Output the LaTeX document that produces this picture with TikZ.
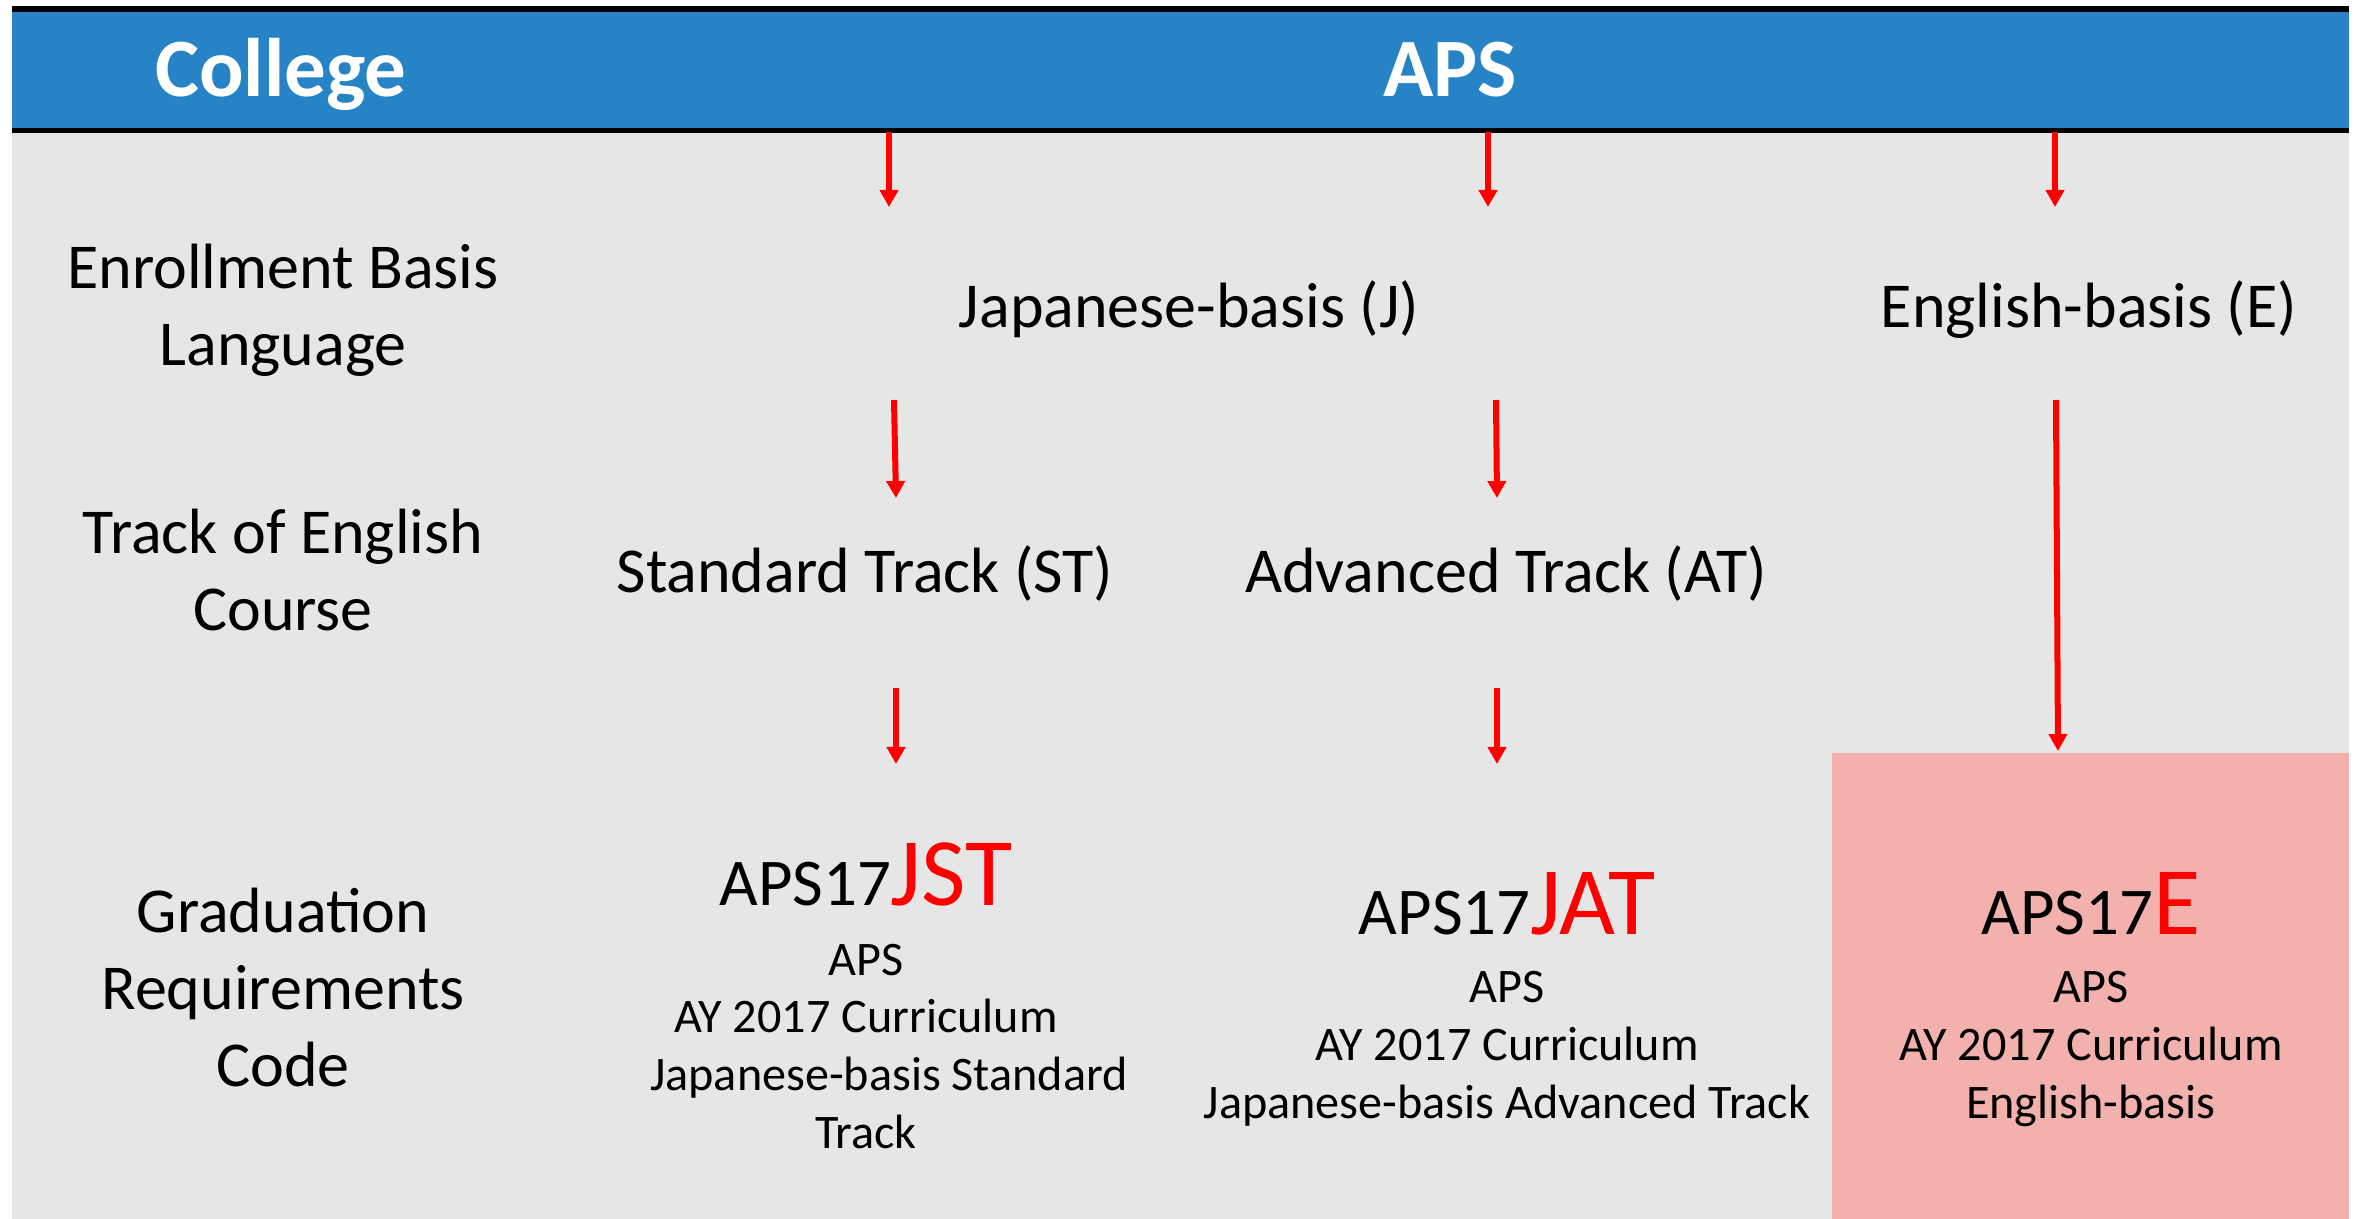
\documentclass[tikz,border=0pt]{standalone}
\usepackage{fontspec}
\setmainfont{Carlito}
\usetikzlibrary{arrows.meta,positioning}
\definecolor{bandblue}{RGB}{38,131,198}
\definecolor{panelgray}{RGB}{230,230,230}
\definecolor{codepink}{RGB}{242,177,172}
\newcommand{\redpart}[1]{{\fontsize{27.5}{33}\selectfont\color{red}#1}}
\tikzset{
  head/.style={font=\fontsize{23.6}{28}\selectfont\bfseries, text=white, anchor=base},
  rowlab/.style={font=\fontsize{18.2}{21.9}\selectfont, align=center, anchor=base, inner sep=0pt},
  code/.style={font=\fontsize{19}{23}\selectfont, anchor=base, inner sep=0pt},
  desc/.style={font=\fontsize{13.7}{16.4}\selectfont, align=center, inner sep=0pt},
  flow/.style={red, line width=0.06cm, -{Triangle[length=0.17cm,width=0.18cm]}}
}
\begin{document}
\begin{tikzpicture}[x=0.01cm,y=-0.01cm]
\useasboundingbox (0,0) rectangle (2359,1219);
\fill [panelgray] (12,133) rectangle (2349,1219);
\fill [codepink] (1832,753) rectangle (2349,1219);
\fill [bandblue] (12,9) rectangle (2349,130);
\draw [line width=0.06cm] (12,9) -- (2349,9);
\draw [line width=0.055cm] (12,130.5) -- (2349,130.5);
\node [head] (college) at (281,97) {College};
\node [head] (aps) at (1450,97) {APS};
\node [rowlab] (enroll) at (283,366) {Enrollment Basis\\Language};
\node [rowlab] (track) at (283,631) {Track of English\\Course};
\node [rowlab] (grad) at (283,1087) {Graduation\\Requirements\\Code};
\node [rowlab] (jbasis) at (1189,328) {Japanese-basis (J)};
\node [rowlab] (ebasis) at (2089,328) {English-basis (E)};
\node [rowlab] (std) at (865,593) {Standard Track (ST)};
\node [rowlab] (adv) at (1506,593) {Advanced Track (AT)};
\node [code] (jst) at (866,906) {APS17\redpart{JST}};
\node [desc, below=2.42cm of jst.base, anchor=base] (jstdesc) {APS\\AY 2017 Curriculum\\\hspace*{0.46cm}Japanese-basis Standard\\Track};
\node [code] (jat) at (1507,935) {APS17\redpart{JAT}};
\node [desc, below=1.83cm of jat.base, anchor=base] (jatdesc) {APS\\AY 2017 Curriculum\\Japanese-basis Advanced Track};
\node [code] (ecode) at (2091,935) {APS17\redpart{E}};
\node [desc, below=1.83cm of ecode.base, anchor=base] (edesc) {APS\\AY 2017 Curriculum\\English-basis};
\coordinate (j1a) at (889,132);
\coordinate (j1b) at (889,207);
\coordinate (j2a) at (1488,132);
\coordinate (j2b) at (1488,207);
\coordinate (e1a) at (2055,132);
\coordinate (e1b) at (2055,207);
\coordinate (s1a) at (894,400);
\coordinate (s1b) at (896,498);
\coordinate (a1a) at (1496,400);
\coordinate (a1b) at (1497,498);
\coordinate (e2a) at (2056,400);
\coordinate (e2b) at (2058,751);
\coordinate (s2a) at (896,688);
\coordinate (s2b) at (896,764);
\coordinate (a2a) at (1497,688);
\coordinate (a2b) at (1497,764);
\draw [flow] (j1a) -- (j1b);
\draw [flow] (j2a) -- (j2b);
\draw [flow] (e1a) -- (e1b);
\draw [flow] (s1a) -- (s1b);
\draw [flow] (a1a) -- (a1b);
\draw [flow] (e2a) -- (e2b);
\draw [flow] (s2a) -- (s2b);
\draw [flow] (a2a) -- (a2b);
\end{tikzpicture}
\end{document}
